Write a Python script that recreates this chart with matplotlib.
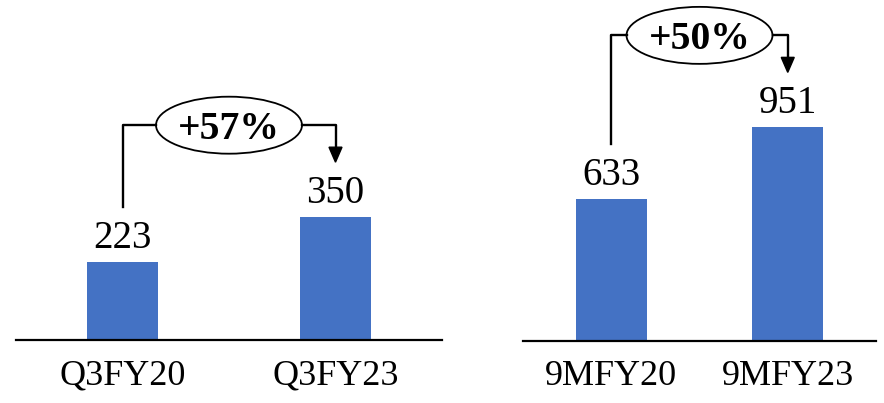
import matplotlib
matplotlib.use("Agg")
import matplotlib.pyplot as plt
from matplotlib.patches import Ellipse, Polygon
from matplotlib.lines import Line2D
from matplotlib.transforms import IdentityTransform

# Quarterly comparison
quarter_labels = ["Q3FY20", "Q3FY23"]
quarter_values = [223, 350]
quarter_growth = "+57%"

# Nine-month comparison
nine_month_labels = ["9MFY20", "9MFY23"]
nine_month_values = [633, 951]
nine_month_growth = "+50%"

BLUE = "#4472C4"
W, H, DPI = 884, 403, 100

plt.rcParams["font.family"] = ["Liberation Serif", "DejaVu Serif"]

fig = plt.figure(figsize=(W / DPI, H / DPI), dpi=DPI)


def px_axes(x0, x1, ybase):
    """Axes spanning pixel columns x0..x1, from pixel row ybase up to the top edge."""
    return fig.add_axes([x0 / W, (H - ybase) / H, (x1 - x0) / W, ybase / H])


def panel(ax, labels, values, growth, bar_width, ymax):
    xs = list(range(len(values)))
    ax.bar(xs, values, width=bar_width, color=BLUE)
    ax.set_xlim(-0.5, 1.5)
    ax.set_ylim(0, ymax)
    for s in ("left", "right", "top"):
        ax.spines[s].set_visible(False)
    ax.spines["bottom"].set_linewidth(1.6)
    ax.set_yticks([])
    ax.set_xticks([])
    ax.patch.set_alpha(0)

    for xi, v, lab in zip(xs, values, labels):
        ax.annotate(str(v), (xi, v), xytext=(0, 14), textcoords="offset pixels",
                    ha="center", va="baseline", fontsize=28)
        ax.annotate(lab, (xi, 0), xytext=(0, -44), textcoords="offset pixels",
                    ha="center", va="baseline", fontsize=26, annotation_clip=False)

    # growth bracket, drawn in pixel space
    ident = IdentityTransform()
    x0, y0 = ax.transData.transform((xs[0], values[0]))
    x1, y1 = ax.transData.transform((xs[1], values[1]))
    level = max(y0, y1) + 92
    cx = (x0 + x1) / 2
    ew, eh = 146, 57
    lw = 1.7

    fig.add_artist(Line2D([x0, x0, cx - ew / 2], [y0 + 55, level, level],
                          color="black", lw=lw, transform=ident))
    tip = y1 + 55
    fig.add_artist(Line2D([cx + ew / 2, x1, x1], [level, level, tip + 14],
                          color="black", lw=lw, transform=ident))
    fig.add_artist(Polygon([[x1 - 6.5, tip + 15], [x1 + 6.5, tip + 15], [x1, tip]],
                           closed=True, color="black", transform=ident))
    fig.add_artist(Ellipse((cx, level), ew, eh, facecolor="white",
                           edgecolor="black", lw=1.3, transform=ident))
    fig.text(cx, level - 14, growth, ha="center", va="baseline", fontsize=28.5,
             fontweight="bold", transform=ident)


ax_q = px_axes(16, 442, 340)
ax_9 = px_axes(523, 876, 341)

panel(ax_q, quarter_labels, quarter_values, quarter_growth, 0.333, 969)
panel(ax_9, nine_month_labels, nine_month_values, nine_month_growth, 0.40, 1518)

fig.savefig("out.png", dpi=DPI)
